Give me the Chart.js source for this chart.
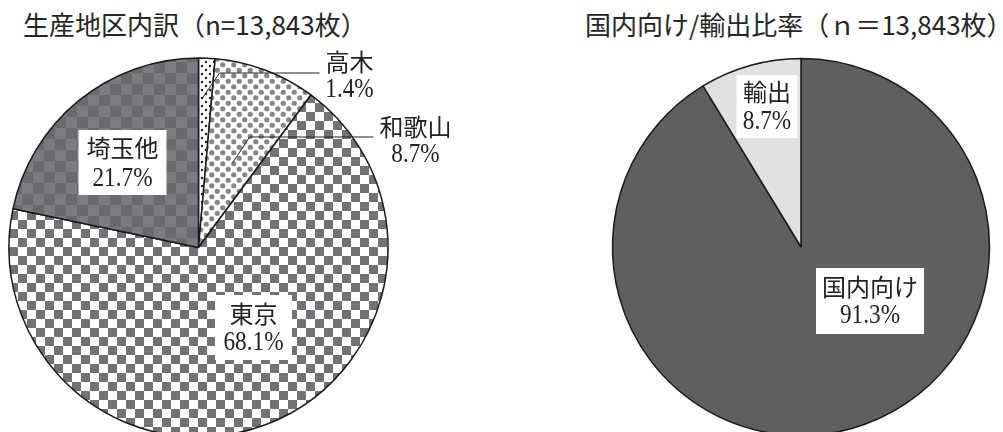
<!DOCTYPE html>
<html>
<head>
<meta charset="utf-8">
<script src="https://cdn.jsdelivr.net/npm/chart.js@4.4.1/dist/chart.umd.min.js"></script>
<style>
    html, body { margin: 0; padding: 0; background: #fff; overflow: hidden; }
    body { width: 1003px; height: 432px; position: relative; }
    .title {
        position: absolute;
        font-family: 'Noto Sans CJK JP', sans-serif;
        font-size: 26px;
        line-height: 30px;
        color: #262626;
        white-space: nowrap;
    }
    canvas { position: absolute; }
</style>
</head>
<body>
<div class="title" id="titleLeft" style="left: 23px; top: 9px;">生産地区内訳（n=13,843枚）</div>
<div class="title" id="titleRight" style="left: 585px; top: 9px;">国内向け/輸出比率（ｎ＝13,843枚）</div>
<canvas id="regionChart" width="500" height="400" style="left: 0; top: 40px;"></canvas>
<canvas id="exportChart" width="443" height="400" style="left: 560px; top: 40px;"></canvas>

<script>
// 生産地区内訳
const regionLabels = ['高木', '和歌山', '東京', '埼玉他'];
const regionValues = [1.4, 8.7, 68.1, 21.7];

// 国内向け/輸出比率
const exportLabels = ['国内向け', '輸出'];
const exportValues = [91.3, 8.7];

function checkerPattern(size, c1, c2) {
    const c = document.createElement('canvas');
    c.width = size * 2;
    c.height = size * 2;
    const g = c.getContext('2d');
    g.fillStyle = c1;
    g.fillRect(0, 0, size * 2, size * 2);
    g.fillStyle = c2;
    g.fillRect(0, 0, size, size);
    g.fillRect(size, size, size, size);
    return g.createPattern(c, 'repeat');
}

function dotPattern(tile, r, bg, fg) {
    const c = document.createElement('canvas');
    c.width = tile;
    c.height = tile;
    const g = c.getContext('2d');
    g.fillStyle = bg;
    g.fillRect(0, 0, tile, tile);
    g.fillStyle = fg;
    [[tile / 4, tile / 4], [tile * 3 / 4, tile * 3 / 4]].forEach(p => {
        g.beginPath();
        g.arc(p[0], p[1], r, 0, Math.PI * 2);
        g.fill();
    });
    return g.createPattern(c, 'repeat');
}

const cjkFont = "24px 'Noto Sans CJK JP', sans-serif";
const numFont = "28px 'Liberation Serif', 'DejaVu Serif', serif";

// label placement, offsets in px from the pie centre
const regionLabelPos = [
    { dx: 151, y1: -186, y2: -159, box: false, leader: [[4, -150], [21, -175], [121, -175]] },
    { dx: 217, y1: -121, y2: -94, box: false, leader: [[34, -85], [51, -111], [175, -111]] },
    { dx: 55, y1: 66, y2: 94, box: true, w: 77, h: 65 },
    { dx: -76, y1: -100, y2: -70, box: true, w: 88, h: 65 }
];
const exportLabelPos = [
    { dx: 69, y1: 40, y2: 68, box: true, w: 108, h: 66 },
    { dx: -34, y1: -155, y2: -126, box: true, w: 61, h: 63 }
];

function drawLabel(ctx, x, y, text, font, sx) {
    ctx.save();
    ctx.font = font;
    ctx.translate(x, y);
    ctx.scale(sx, 1);
    ctx.fillText(text, 0, 0);
    ctx.restore();
}

const labelPlugin = {
    id: 'sliceLabels',
    afterDatasetsDraw(chart, args, opts) {
        const ctx = chart.ctx;
        const meta = chart.getDatasetMeta(0);
        const arc = meta.data[0];
        const cx = arc.x, cy = arc.y;
        const labels = chart.data.labels;
        const values = chart.data.datasets[0].data;
        ctx.save();
        opts.positions.forEach((p, i) => {
            const x = cx + p.dx;
            if (p.box) {
                const top = cy + (p.y1 + p.y2) / 2 - p.h / 2;
                ctx.fillStyle = '#fff';
                ctx.fillRect(x - p.w / 2, top, p.w, p.h);
            }
            if (p.leader) {
                ctx.strokeStyle = '#222';
                ctx.lineWidth = 1;
                ctx.beginPath();
                p.leader.forEach((pt, k) => {
                    const px = cx + pt[0], py = cy + pt[1] + 0.5;
                    if (k === 0) ctx.moveTo(px, py); else ctx.lineTo(px, py);
                });
                ctx.stroke();
            }
            ctx.fillStyle = '#222';
            ctx.textAlign = 'center';
            ctx.textBaseline = 'middle';
            drawLabel(ctx, x, cy + p.y1, labels[i], cjkFont, 1);
            drawLabel(ctx, x, cy + p.y2 + 1, values[i].toFixed(1) + '%', numFont, 0.83);
        });
        ctx.restore();
    }
};

function pieOptions(radius, padding, positions) {
    return {
        responsive: false,
        maintainAspectRatio: false,
        devicePixelRatio: 1,
        animation: false,
        radius: radius,
        layout: { padding: padding },
        plugins: {
            legend: { display: false },
            tooltip: { enabled: false },
            title: { display: false },
            sliceLabels: { positions: positions }
        },
        events: []
    };
}

const rctx = document.getElementById('regionChart').getContext('2d');
new Chart(rctx, {
    type: 'pie',
    data: {
        labels: regionLabels,
        datasets: [{
            data: regionValues,
            backgroundColor: [
                dotPattern(8, 1.2, '#ffffff', '#1a1a1a'),
                dotPattern(11, 2.6, '#ffffff', '#86868a'),
                checkerPattern(9, '#ffffff', '#727276'),
                checkerPattern(11, '#7c7c80', '#6a6a6e')
            ],
            borderColor: '#1a1a1a',
            borderWidth: 1.5,
            hoverOffset: 0
        }]
    },
    options: pieOptions(189.5, { left: 9, right: 112, top: 18, bottom: 3 }, regionLabelPos),
    plugins: [labelPlugin]
});

const ectx = document.getElementById('exportChart').getContext('2d');
new Chart(ectx, {
    type: 'pie',
    data: {
        labels: exportLabels,
        datasets: [{
            data: exportValues,
            backgroundColor: ['#5f5f62', '#e0e0e2'],
            borderColor: '#1a1a1a',
            borderWidth: 1.5,
            hoverOffset: 0
        }]
    },
    options: pieOptions(188.5, { left: 51, right: 12, top: 17, bottom: 3 }, exportLabelPos),
    plugins: [labelPlugin]
});
</script>
</body>
</html>
